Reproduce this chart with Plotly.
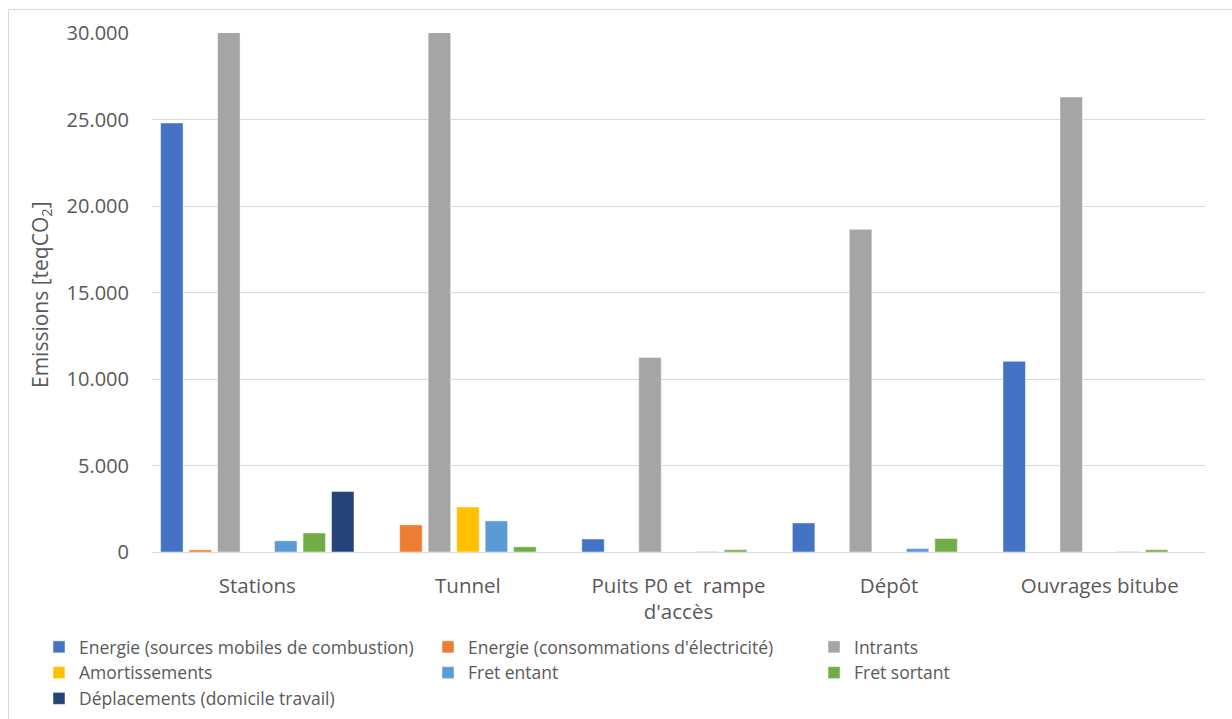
import plotly.graph_objects as go

# Categories (work packages) and emission sources
categories = ["Stations", "Tunnel", "Puits P0 et  rampe<br>d'accès", "Dépôt", "Ouvrages bitube"]

energie_combustion = [24800, 0, 750, 1680, 11020]
energie_electricite = [120, 1570, 0, 0, 0]
intrants = [43000, 58000, 11250, 18650, 26300]
amortissements = [0, 2600, 0, 0, 0]
fret_entrant = [650, 1800, 30, 200, 30]
fret_sortant = [1100, 300, 130, 780, 130]
deplacements = [3500, 0, 0, 0, 0]

y_title = "Emissions [teqCO<sub>2</sub>]"

series = [
    ("Energie (sources mobiles de combustion)", energie_combustion, "#4472C4", "legend"),
    ("Energie (consommations d'électricité)", energie_electricite, "#ED7D31", "legend2"),
    ("Intrants", intrants, "#A5A5A5", "legend3"),
    ("Amortissements", amortissements, "#FFC000", "legend"),
    ("Fret entant", fret_entrant, "#5B9BD5", "legend2"),
    ("Fret sortant", fret_sortant, "#70AD47", "legend3"),
    ("Déplacements (domicile travail)", deplacements, "#264478", "legend"),
]

FONT = "Open Sans"
GREY_TXT = "#595959"
GRID = "#D9D9D9"

fig = go.Figure()
for name, vals, color, leg in series:
    fig.add_trace(go.Bar(
        x=categories, y=vals, name=name,
        marker=dict(color=color, line=dict(color="rgba(255,255,255,0.6)", width=0.8)),
        legend=leg,
    ))

W, H = 1232, 719
L, R, T, B = 152, 27, 33, 167
pw, ph = W - L - R, H - T - B

def px_to_xpaper(px):
    return (px - L) / pw

def px_to_ypaper(py):
    return (H - B - py) / ph

legend_common = dict(
    orientation="v", xanchor="left", yanchor="top",
    xref="container", yref="container",
    font=dict(family=FONT, size=17.5, color=GREY_TXT),
    bgcolor="rgba(0,0,0,0)", borderwidth=0, tracegroupgap=0,
    itemclick=False, itemdoubleclick=False,
)
LEG_TOP = 1 - 629 / H

fig.update_layout(
    width=W, height=H,
    margin=dict(l=L, r=R, t=T, b=B, pad=0, autoexpand=False),
    paper_bgcolor="white", plot_bgcolor="white",
    barmode="group", bargap=0.053, bargroupgap=0.21,
    separators=",.",
    font=dict(family=FONT, color=GREY_TXT),
    showlegend=True,
    legend=dict(x=39 / W, y=LEG_TOP, **legend_common),
    legend2=dict(x=428 / W, y=LEG_TOP, **legend_common),
    legend3=dict(x=814 / W, y=LEG_TOP, **legend_common),
    xaxis=dict(
        showline=False, showgrid=False, ticks="",
        tickfont=dict(family=FONT, size=20.5, color=GREY_TXT),
        ticklabelstandoff=19,
    ),
    yaxis=dict(
        range=[0, 30000], tickvals=[0, 5000, 10000, 15000, 20000, 25000, 30000],
        tickformat=",d",
        showgrid=True, gridcolor=GRID, gridwidth=1,
        zeroline=True, zerolinecolor=GRID, zerolinewidth=1,
        showline=False, ticks="",
        tickfont=dict(family=FONT, size=20, color=GREY_TXT),
        ticklabelstandoff=22,
    ),
    annotations=[dict(
        text=y_title, textangle=-90, showarrow=False,
        xref="paper", yref="paper",
        x=px_to_xpaper(41), y=px_to_ypaper(295),
        xanchor="center", yanchor="middle",
        font=dict(family=FONT, size=21, color=GREY_TXT),
    )],
    shapes=[dict(
        type="rect", xref="paper", yref="paper",
        x0=px_to_xpaper(8.5), x1=px_to_xpaper(1245),
        y0=px_to_ypaper(730), y1=px_to_ypaper(9.5),
        line=dict(color=GRID, width=1), fillcolor="rgba(0,0,0,0)", layer="below",
    )],
)

fig.write_html("out.html")
